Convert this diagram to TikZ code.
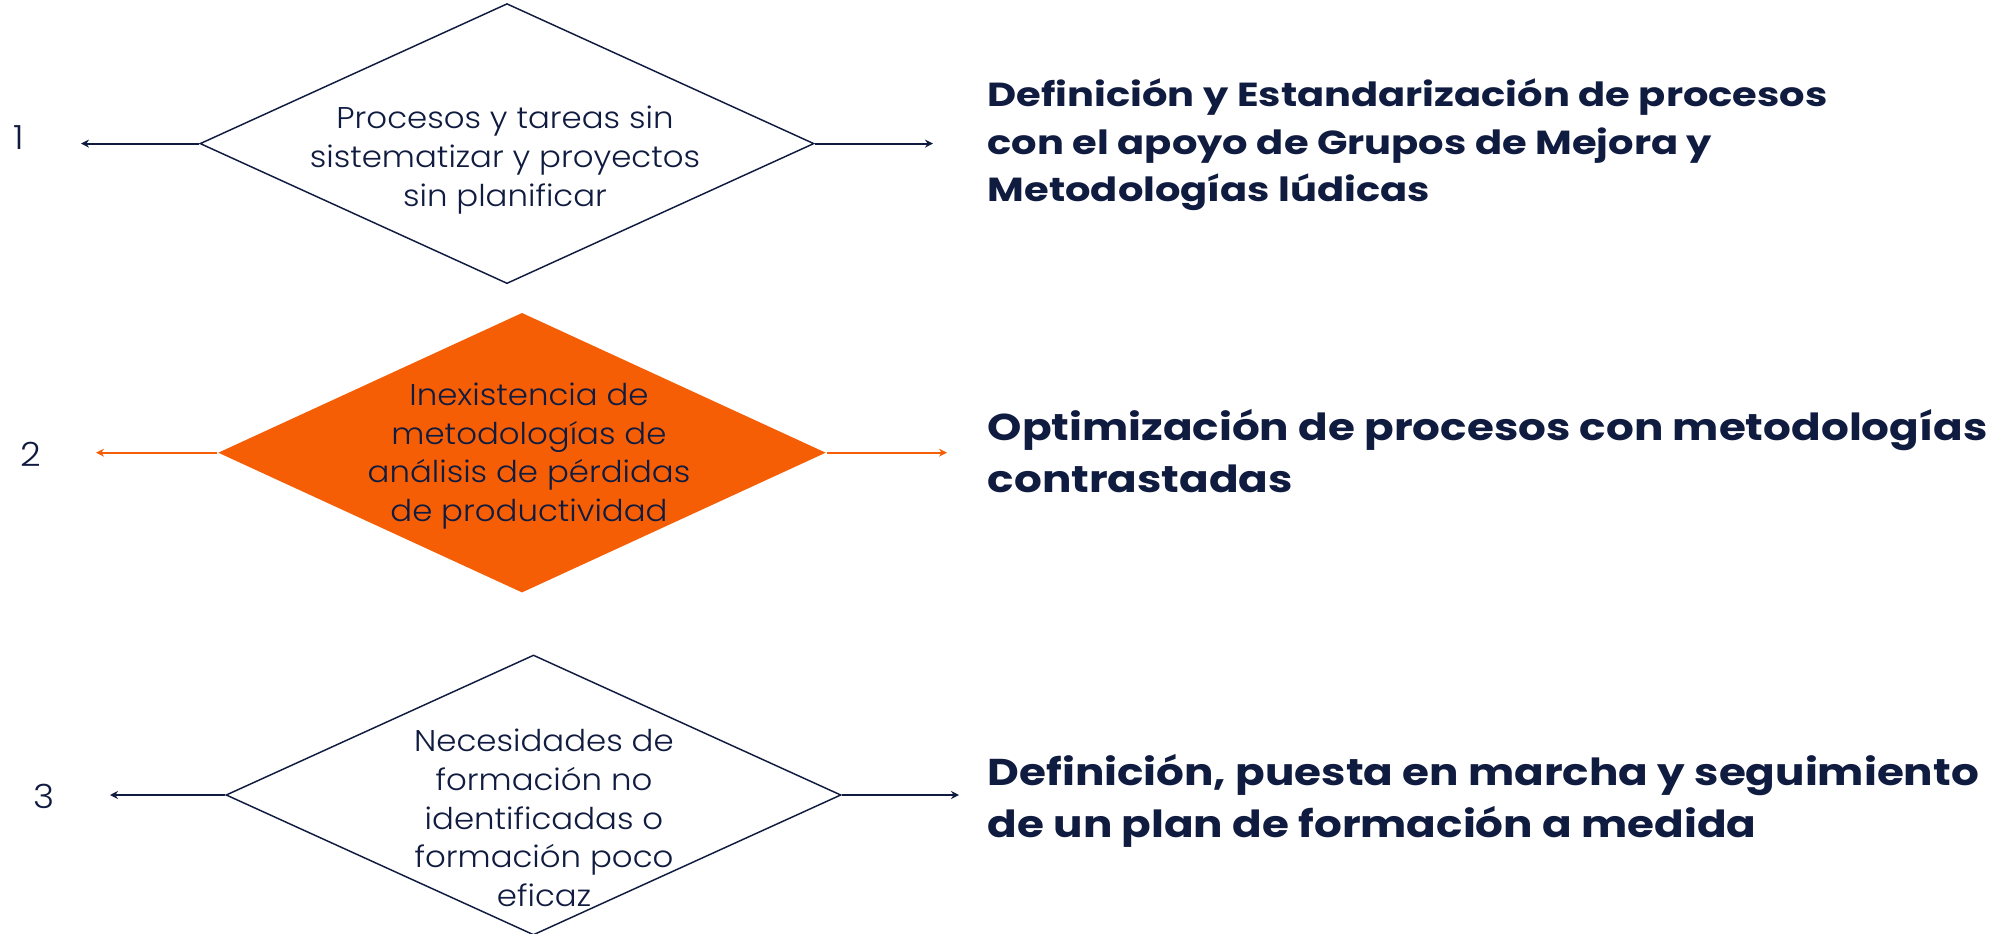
\documentclass[tikz,border=0pt]{standalone}
\usepackage{fontspec}
\setmainfont{Poppins}
\newfontfamily\lightfont{Poppins Light}[FakeStretch=1.08]
\newfontfamily\solAfont{Poppins}[FakeStretch=1.2]
\newfontfamily\solBfont{Poppins}[FakeStretch=1.17]
\usetikzlibrary{shapes.geometric,arrows.meta}
\definecolor{navy}{RGB}{16,27,64}
\definecolor{orng}{RGB}{245,94,5}
\begin{document}
\begin{tikzpicture}[x=0.75pt,y=-0.75pt,
  dia/.style={diamond,draw=navy,line width=1.1pt,fill=white,minimum width=614*0.75pt,minimum height=280*0.75pt,inner sep=0pt},
  diaorange/.style={dia,draw=none,fill=orng},
  dtext/.style={text=navy,align=center,font=\lightfont\fontsize{22.5}{29}\selectfont},
  numtext/.style={text=navy,font=\lightfont\fontsize{25}{30}\selectfont},
  solA/.style={text=navy,anchor=west,align=left,inner sep=0pt,font=\solAfont\bfseries\fontsize{25}{35.5}\selectfont},
  solB/.style={text=navy,anchor=west,align=left,inner sep=0pt,font=\solBfont\bfseries\fontsize{28}{39}\selectfont},
  conn/.style={draw=navy,line width=1.6pt,-{Stealth[length=6pt,width=6pt]}},
  connor/.style={draw=orng,line width=1.6pt,-{Stealth[length=6pt,width=6pt]}}]
\useasboundingbox (0,0) rectangle (2011,934);
% row 1
\node[dia] (d1) at (507,143.6) {};
\node[dtext] (t1) at (505,160) {Procesos y tareas sin\\sistematizar y proyectos\\sin planificar};
\coordinate (l1) at (81,143.6);
\coordinate (r1) at (933,143.6);
\draw[conn] (d1.west) -- (l1);
\draw[conn] (d1.east) -- (r1);
\node[numtext] (n1) at (19,138) {1};
\node[solA] (s1) at (987.5,145) {Definición y Estandarización de procesos\\con el apoyo de Grupos de Mejora y\\Metodologías lúdicas};
% row 2
\node[diaorange,minimum width=608*0.75pt] (d2) at (522,452.7) {};
\node[dtext] (t2) at (529,456) {Inexistencia de\\metodologías de\\análisis de pérdidas\\de productividad};
\coordinate (l2) at (96,452.7);
\coordinate (r2) at (947,452.7);
\draw[connor] (d2.west) -- (l2);
\draw[connor] (d2.east) -- (r2);
\node[numtext] (n2) at (31,454) {2};
\node[solB] (s2) at (987.5,451) {Optimización de procesos con metodologías\\contrastadas};
% row 3
\node[dia,minimum width=615*0.75pt] (d3) at (533.5,795) {};
\node[dtext] (t3) at (544,818) {Necesidades de\\formación no\\identificadas o\\formación poco\\eficaz};
\coordinate (l3) at (110,795);
\coordinate (r3) at (959,795);
\draw[conn] (d3.west) -- (l3);
\draw[conn] (d3.east) -- (r3);
\node[numtext] (n3) at (43.6,796) {3};
\node[solB] (s3) at (987.5,801) {Definición, puesta en marcha y seguimiento\\de un plan de formación a medida};
\end{tikzpicture}
\end{document}
